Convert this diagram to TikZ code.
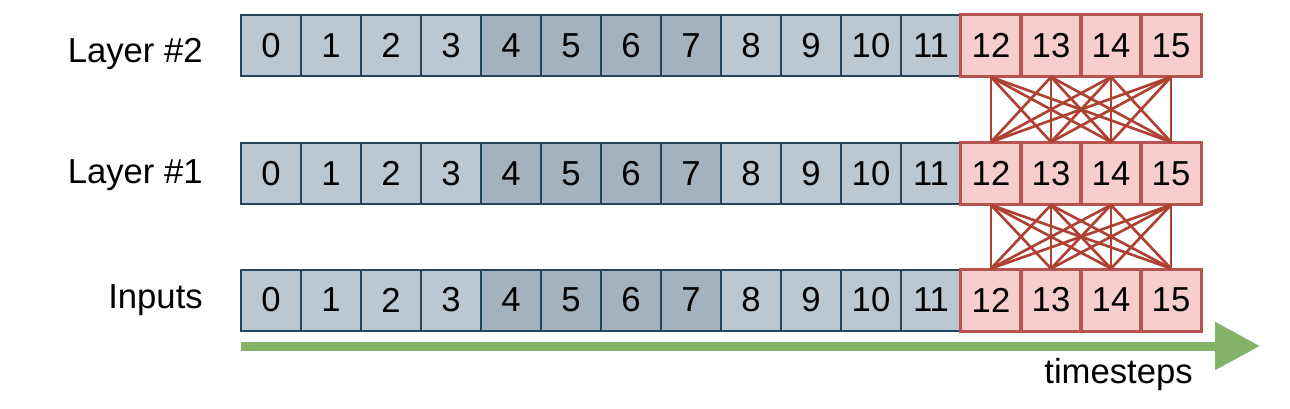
\documentclass[tikz,border=0pt]{standalone}
\usepackage{fontspec}
\setmainfont{Liberation Sans}
\usetikzlibrary{arrows.meta}
\definecolor{bgfill}{HTML}{BAC8D3}
\definecolor{bgdark}{HTML}{A2B2BE}
\definecolor{bgline}{HTML}{23445D}
\definecolor{rdfill}{HTML}{F8CECC}
\definecolor{rdline}{HTML}{B85450}
\definecolor{conn}{HTML}{AE4132}
\definecolor{grn}{HTML}{82B366}
\tikzset{
  cell/.style={draw, line width=1.5pt, minimum width=45pt, minimum height=45.75pt, inner sep=0pt, font=\fontsize{26}{30}\selectfont},
  bluecell/.style={cell, draw=bgline, fill=bgfill},
  darkcell/.style={cell, draw=bgline, fill=bgdark},
  redcell/.style={cell, draw=rdline, fill=rdfill},
  rowlabel/.style={anchor=base east, inner sep=0pt, font=\fontsize{26}{30}\selectfont},
  link/.style={draw=conn, line width=2pt},
}
\begin{document}
\begin{tikzpicture}[x=0.75pt, y=-0.75pt]
\useasboundingbox (0,0) rectangle (1290,408);
% rows
\foreach \r/\y in {2/45.5, 1/173.5, 0/300} {
  \foreach \i in {0,...,15} {
    \ifnum\i<4
      \node[bluecell] (r\r c\i) at (271+60*\i, \y) {\i};
    \else\ifnum\i<8
      \node[darkcell] (r\r c\i) at (271+60*\i, \y) {\i};
    \else\ifnum\i<12
      \node[bluecell] (r\r c\i) at (271+60*\i, \y) {\i};
    \else
      \node[redcell] (r\r c\i) at (271+60*\i, \y) {\i};
    \fi\fi\fi
  }
}
% redraw red cell borders on top so they are not covered
\foreach \r in {2,1,0} {
  \foreach \i in {12,...,15} {
    \draw[rdline, line width=1.5pt] (r\r c\i.south west) rectangle (r\r c\i.north east);
  }
}
% connections
\foreach \a in {12,...,15} {
  \foreach \b in {12,...,15} {
    \draw[link] (r2c\a.south) -- (r1c\b.north);
    \draw[link] (r1c\a.south) -- (r0c\b.north);
  }
}
% labels
\node[rowlabel] (lab2) at (203,62.5) {Layer \#2};
\node[rowlabel] (lab1) at (203,183) {Layer \#1};
\node[rowlabel] (lab0) at (203,308) {Inputs};
% time arrow
\coordinate (tstart) at (241,346);
\coordinate (tend) at (1260,346);
\draw[grn, line width=6.75pt, -{Triangle[length=33.75pt, width=34.5pt]}] (tstart) -- (tend);
\node[rowlabel] (ts) at (1193,383) {timesteps};
\end{tikzpicture}
\end{document}
